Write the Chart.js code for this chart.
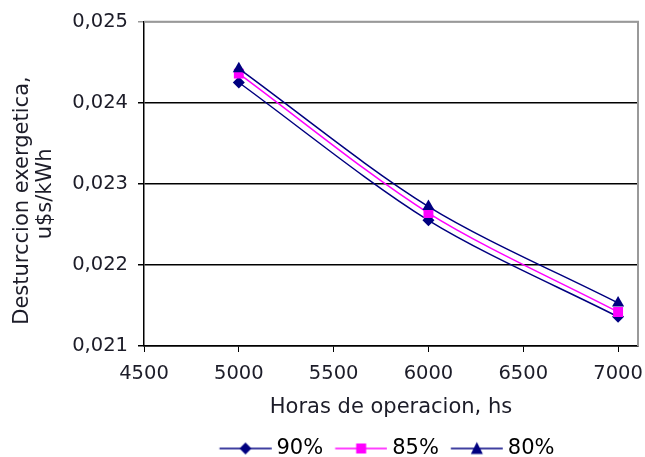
<!DOCTYPE html>
<html>
<head>
<meta charset="utf-8">
<script src="https://cdn.jsdelivr.net/npm/chart.js@4/dist/chart.umd.min.js"></script>
<style>
  html, body { margin: 0; padding: 0; background: #fff; }
  #wrap { width: 645px; height: 457px; }
</style>
</head>
<body>
<div id="wrap"><canvas id="c" width="645" height="457"></canvas></div>
<script>
// Operating hours per year and exergy destruction cost (u$s/kWh) per efficiency
const hours = [5000, 6000, 7000];
const cost90 = [0.02425, 0.02255, 0.02136];
const cost85 = [0.02436, 0.02264, 0.02142];
const cost80 = [0.02442, 0.02272, 0.02153];
const seriesNames = ['90%', '85%', '80%'];
const xTicks = [4500, 5000, 5500, 6000, 6500, 7000];
const yTicks = [0.021, 0.022, 0.023, 0.024, 0.025];

const NAVY = '#000080';
const MAGENTA = '#FF00FF';
const TEXT = '#1c1c28';
const FONT = 'DejaVu Sans, Verdana, sans-serif';
const LEGEND_PAD = 6;
const LEGEND_FONT = 21;

// Line-plus-marker icon used as the legend symbol (line runs 11.75..63.75)
function legendIcon(color, marker) {
  const cv = document.createElement('canvas');
  cv.width = 64; cv.height = 16;
  const g = cv.getContext('2d');
  g.strokeStyle = color; g.lineWidth = 1.5;
  g.beginPath(); g.moveTo(11.75, 8); g.lineTo(63.75, 8); g.stroke();
  g.fillStyle = color;
  const cx = 37.75;
  g.beginPath();
  if (marker === 'diamond') {
    g.moveTo(cx, 2); g.lineTo(cx + 6, 8); g.lineTo(cx, 14); g.lineTo(cx - 6, 8);
  } else if (marker === 'square') {
    g.rect(cx - 5, 3, 10, 10);
  } else {
    g.moveTo(cx, 1.5); g.lineTo(cx + 6, 13.5); g.lineTo(cx - 6, 13.5);
  }
  g.closePath(); g.fill();
  return cv;
}

const icons = [legendIcon(NAVY, 'diamond'), legendIcon(MAGENTA, 'square'), legendIcon(NAVY, 'triangle')];

function series(values) {
  return hours.map((h, i) => ({ x: h, y: values[i] }));
}

// Gray frame on the top and right of the plot area
const frame = {
  id: 'frame',
  beforeDatasetsDraw(chart) {
    const a = chart.chartArea, c = chart.ctx;
    c.save();
    c.strokeStyle = '#999';
    c.lineWidth = 2;
    c.beginPath();
    c.moveTo(a.left, a.top);
    c.lineTo(a.right, a.top);
    c.lineTo(a.right, a.bottom);
    c.stroke();
    c.restore();
  }
};

// Centre the legend under the plot area and sit it near the bottom edge
const legendPlacement = {
  id: 'legendPlacement',
  afterLayout(chart) {
    const lg = chart.legend;
    if (!lg) return;
    const dx = 64.5;
    const dy = 448.5 - (lg.top + LEGEND_PAD + LEGEND_FONT / 2);
    lg.left += dx; lg.right += dx;
    lg.top += dy; lg.bottom += dy;
  }
};

new Chart(document.getElementById('c'), {
  type: 'line',
  data: {
    datasets: [
      { label: seriesNames[0], data: series(cost90), borderColor: NAVY, backgroundColor: NAVY,
        pointStyle: 'rectRot', pointRadius: 6, order: 3 },
      { label: seriesNames[1], data: series(cost85), borderColor: MAGENTA, backgroundColor: MAGENTA,
        pointStyle: 'rect', pointRadius: 7, order: 2 },
      { label: seriesNames[2], data: series(cost80), borderColor: NAVY, backgroundColor: NAVY,
        pointStyle: 'triangle', pointRadius: 7, order: 1 }
    ]
  },
  options: {
    responsive: false,
    animation: false,
    layout: { padding: { top: 21, right: 6, left: 0, bottom: 0 } },
    elements: {
      line: { borderWidth: 1.5, tension: 0.3, fill: false },
      point: { borderWidth: 0, hoverRadius: 7 }
    },
    scales: {
      x: {
        type: 'linear',
        min: 4500, max: 7105,
        afterBuildTicks(scale) { scale.ticks = xTicks.map(v => ({ value: v })); },
        afterFit(scale) { scale.height = 74; scale.paddingLeft = 0; scale.paddingRight = 0; },
        grid: { drawOnChartArea: false, drawTicks: true, tickLength: 6, color: '#000' },
        border: { color: '#000', width: 1.5 },
        ticks: { color: TEXT, font: { family: FONT, size: 19.5 }, padding: 10, maxRotation: 0,
                 callback: v => String(v) },
        title: { display: true, text: 'Horas de operacion, hs', color: TEXT,
                 font: { family: FONT, size: 21 }, padding: { top: 0, bottom: 0 } }
      },
      y: {
        min: 0.021, max: 0.025,
        afterBuildTicks(scale) { scale.ticks = yTicks.map(v => ({ value: v })); },
        afterFit(scale) { scale.width = 144; },
        grid: {
          tickLength: 6,
          color: ctx => (ctx.tick && Math.abs(ctx.tick.value - 0.025) < 1e-9) ? '#999' : '#000',
          lineWidth: 1.5
        },
        border: { color: '#000', width: 1.5 },
        ticks: {
          color: TEXT, font: { family: FONT, size: 19.5 }, padding: 10,
          callback: v => v.toFixed(3).replace('.', ',')
        },
        title: { display: true, text: ['Desturccion exergetica,     ', 'u$s/kWh   '], color: TEXT,
                 font: { family: FONT, size: 21, lineHeight: 1.05 }, padding: { top: 12, bottom: 0 } }
      }
    },
    plugins: {
      tooltip: { enabled: false },
      legend: {
        position: 'bottom',
        labels: {
          usePointStyle: true,
          pointStyleWidth: 52.5,
          padding: LEGEND_PAD,
          color: TEXT,
          font: { family: FONT, size: LEGEND_FONT },
          generateLabels: chart => chart.data.datasets.map((ds, i) => ({
            text: ds.label, pointStyle: icons[i], datasetIndex: i,
            fillStyle: ds.borderColor, strokeStyle: ds.borderColor, lineWidth: 0, hidden: false
          }))
        }
      }
    }
  },
  plugins: [frame, legendPlacement]
});
</script>
</body>
</html>
